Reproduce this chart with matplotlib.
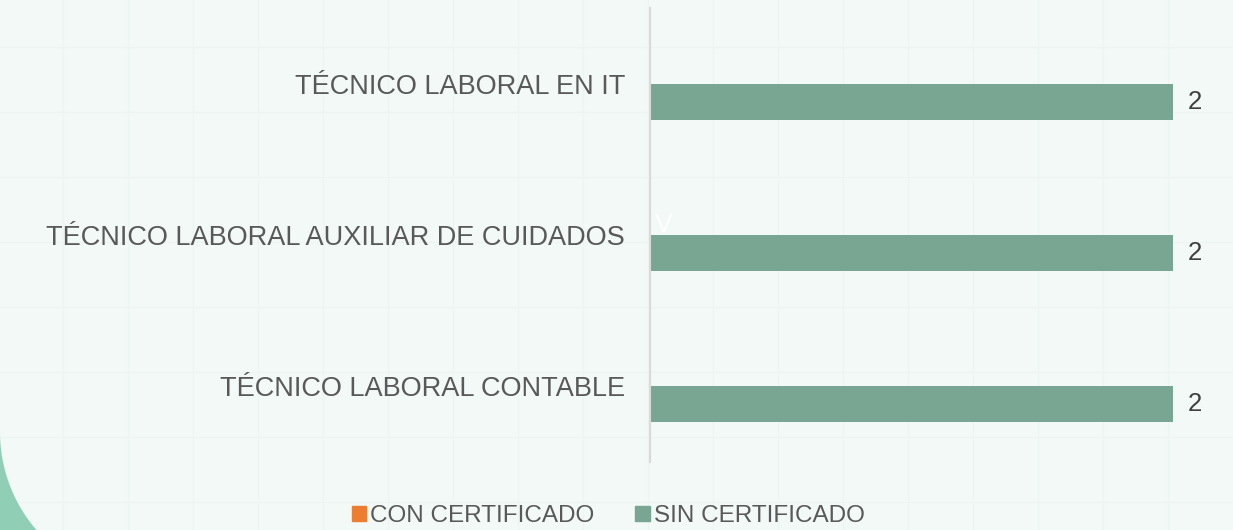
import numpy as np
import matplotlib.pyplot as plt
from matplotlib.patches import Patch, Polygon

plt.rcParams['font.family'] = ['Liberation Sans', 'DejaVu Sans']

# data
categories = ['TÉCNICO LABORAL EN IT',
              'TÉCNICO LABORAL AUXILIAR DE CUIDADOS',
              'TÉCNICO LABORAL CONTABLE']
series_names = ['CON CERTIFICADO', 'SIN CERTIFICADO']
con_certificado = [0, 0, 0]
sin_certificado = [2, 2, 2]

BG = '#F2F9F7'
TEXT = '#595959'
ORANGE = '#ED7D31'
GREEN = '#79A693'

W, H = 1233, 530
fig = plt.figure(figsize=(W / 100, H / 100), dpi=100)
fig.patch.set_facecolor(BG)

# background decoration: faint square grid + green curve bottom-left
bg = fig.add_axes([0, 0, 1, 1], zorder=-10)
bg.set_xlim(0, W)
bg.set_ylim(H, 0)
bg.axis('off')
for gx in np.arange(63, W, 65):
    bg.axvline(gx, color='#EDF5F2', lw=1.0)
for gy in np.arange(47, H, 65):
    bg.axhline(gy, color='#EDF5F2', lw=1.0)
R, cy = 150, 432
ys = np.linspace(cy, H, 60)
xs = R - np.sqrt(R ** 2 - (ys - cy) ** 2)
pts = np.vstack([np.column_stack([xs, ys]), [[0, H], [0, cy]]])
bg.add_patch(Polygon(pts, closed=True, color='#90CFB5', lw=0, zorder=5))

ax = fig.add_axes([650 / W, (H - 462) / H, 523 / W, 454 / H])
ax.set_facecolor('none')

y = np.arange(len(categories))
h = 0.238
ax.barh(y - h / 2, con_certificado, height=h, color=ORANGE, label=series_names[0])
bars = ax.barh(y + h / 2, sin_certificado, height=h, color=GREEN, label=series_names[1])

for b, v in zip(bars, sin_certificado):
    ax.text(b.get_width() + 0.058, b.get_y() + b.get_height() / 2, str(v),
            ha='left', va='center', fontsize=18.5, color='#404040', clip_on=False)

ax.set_xlim(0, 2)
ax.set_ylim(len(categories) - 0.5, -0.5)
ax.set_yticks(y)
ax.set_yticklabels(categories, fontsize=19.5, color=TEXT)
ax.tick_params(axis='y', length=0, pad=18)
ax.set_xticks([])
for s in ['top', 'right', 'bottom']:
    ax.spines[s].set_visible(False)
ax.spines['left'].set_color('#D9D9D9')
ax.spines['left'].set_linewidth(1.5)

fig.text(655 / W, 1 - 225 / H, 'V', color='white', fontsize=19, ha='left', va='center')

handles = [Patch(color=ORANGE), Patch(color=GREEN)]
fig.legend(handles, series_names, loc='center', bbox_to_anchor=(608 / W, 1 - 516 / H),
           ncol=2, frameon=False, fontsize=17.5, labelcolor=TEXT,
           handlelength=0.6, handleheight=0.6, handletextpad=0.15, columnspacing=1.7)

fig.savefig('out.png', dpi=100, facecolor=BG)
